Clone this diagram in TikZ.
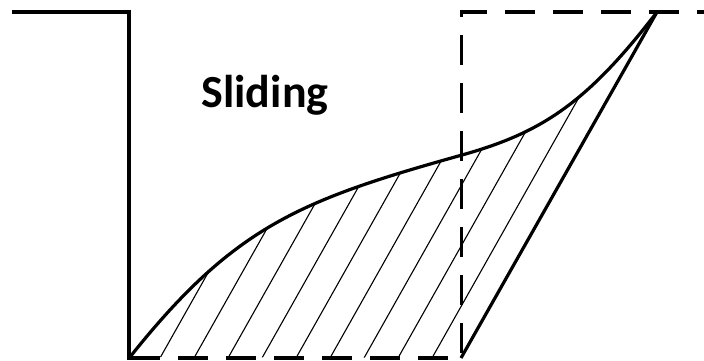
\documentclass[tikz,border=0pt]{standalone}
\usepackage{fontspec}
\setmainfont{Carlito}
\begin{document}
\begin{tikzpicture}[x=1pt,y=-1pt,
  solidline/.style={line width=3.2pt,line join=miter},
  dashline/.style={line width=3.2pt,dash pattern=on 30pt off 18pt},
  hatchline/.style={line width=1.1pt}]
\useasboundingbox (0,0) rectangle (704,360);
\coordinate (A) at (130,357);
\coordinate (M) at (462,155);
\coordinate (T) at (657,12);
\coordinate (B) at (461,358);
% hatching
\begin{scope}
\clip (A) .. controls (235,225) and (302,199.8) .. (M) .. controls (542,132.6) and (587,103) .. (T) -- (B) -- cycle;
\foreach \k in {0,...,8}{
  \draw[hatchline] ({160+34*\k},358) -- ++(234,-415);
}
\end{scope}
% left wall
\draw[solidline] (12,12) -- (129,12) -- (129,360);
% dashed box
\draw[dashline,dash phase=23pt] (704,12) -- (461.5,12) -- (461.5,358);
\draw[dashline] (130,358) -- (461.5,358);
% curve
\draw[solidline] (A) .. controls (235,225) and (302,199.8) .. (M) .. controls (542,132.6) and (587,103) .. (T);
% right line
\draw[solidline] (B) -- (T);
\node[anchor=base,inner sep=0pt,font=\bfseries\fontsize{46}{50}\selectfont] (lbl) at (265,107) {Sliding};
\end{tikzpicture}
\end{document}
